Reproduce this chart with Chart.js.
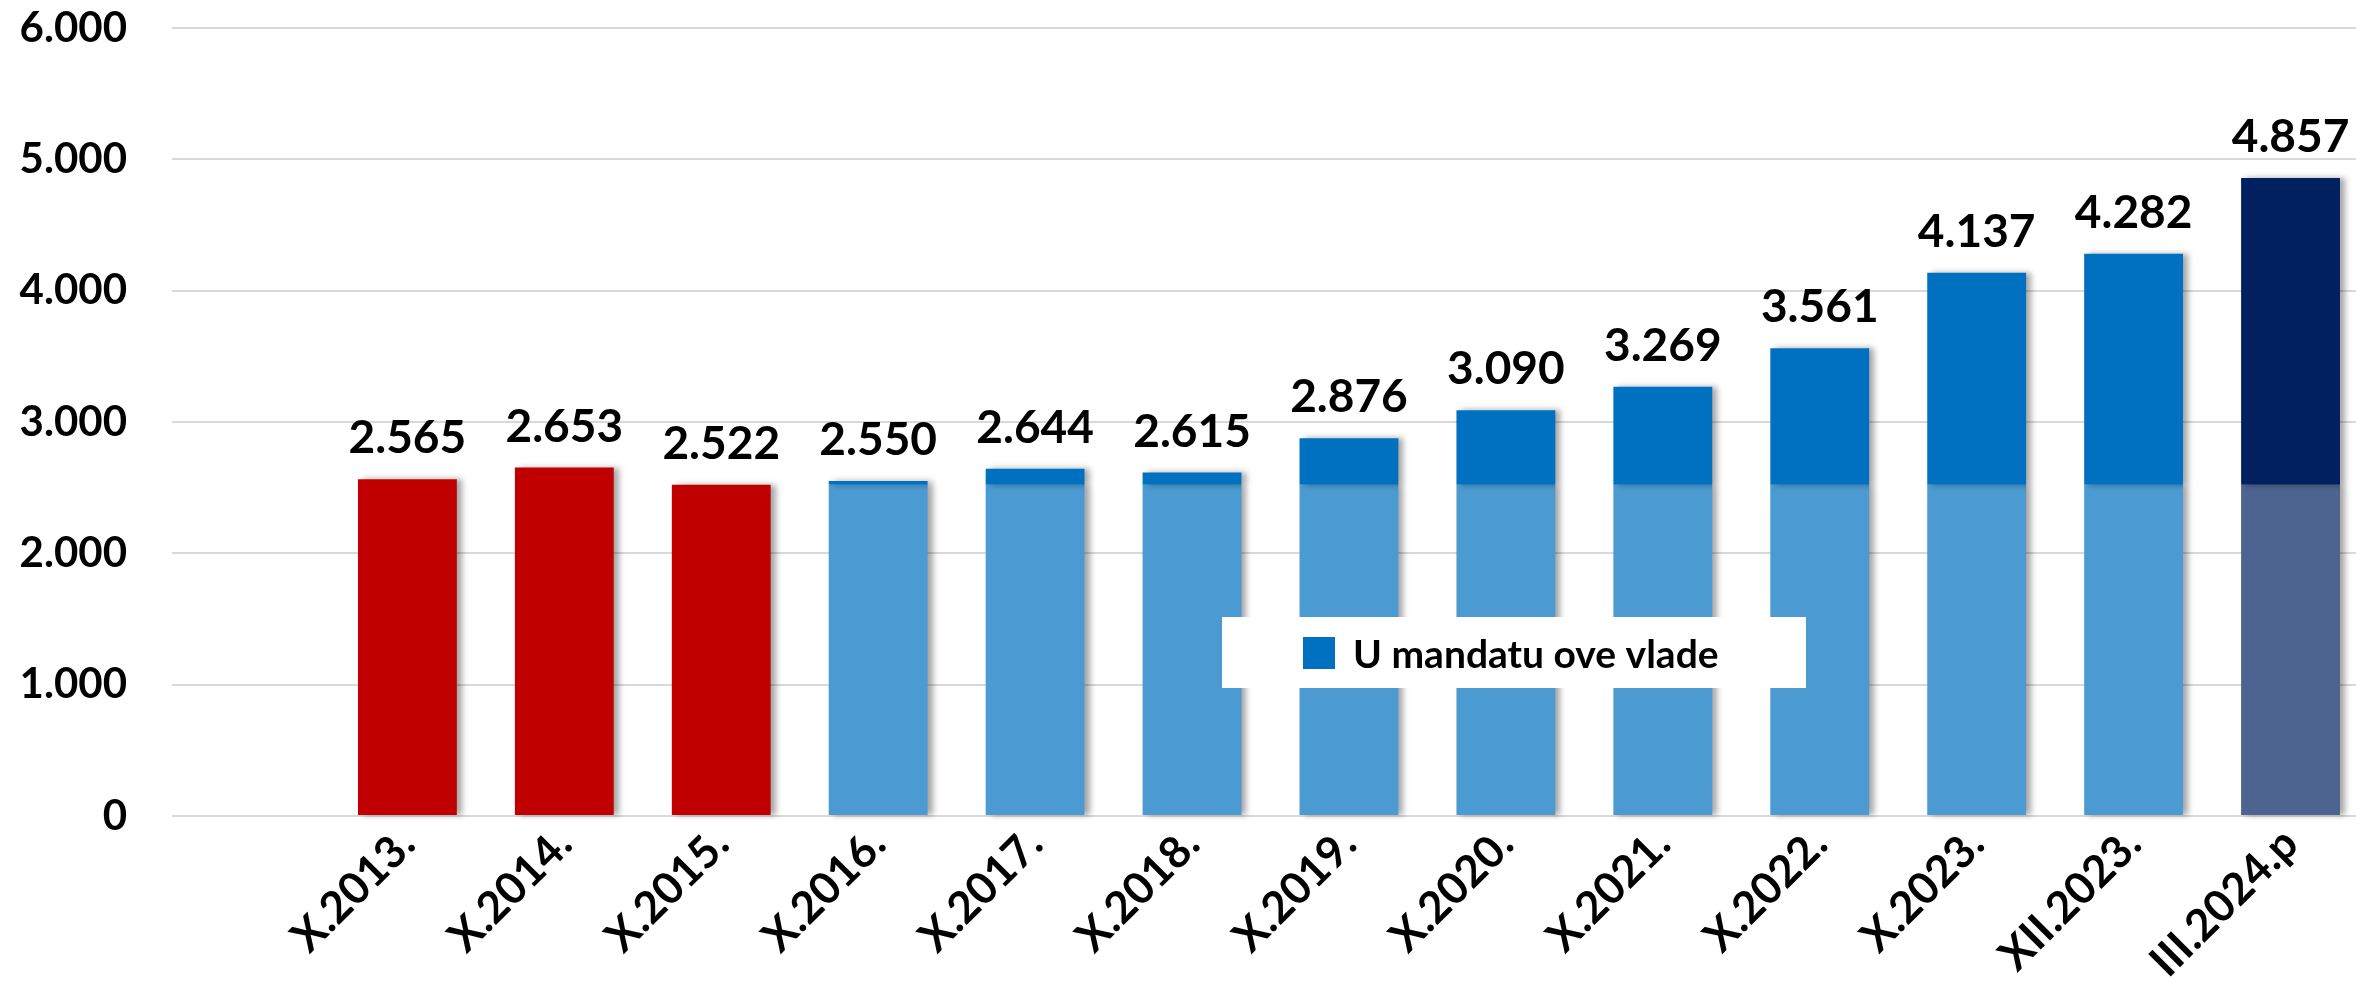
<!DOCTYPE html>
<html>
<head>
<meta charset="utf-8">
<script src="https://cdn.jsdelivr.net/npm/chart.js@4.4.1/dist/chart.umd.min.js"></script>
<style>
    html, body { margin: 0; padding: 0; background: #fff; overflow: hidden; }
    #wrap { width: 2369px; height: 1008px; }
</style>
</head>
<body>
<div id="wrap"><canvas id="chart"></canvas></div>
<script>
// first slot is an empty category, as in the original
const labels = ['', 'X.2013.', 'X.2014.', 'X.2015.', 'X.2016.', 'X.2017.', 'X.2018.', 'X.2019.',
    'X.2020.', 'X.2021.', 'X.2022.', 'X.2023.', 'XII.2023.', 'III.2024.p'];
const totals = [null, 2565, 2653, 2522, 2550, 2644, 2615, 2876, 3090, 3269, 3561, 4137, 4282, 4857];
const before = [null, 2565, 2653, 2522, null, null, null, null, null, null, null, null, null, null];
const baseLevel = [null, null, null, null, 2522, 2522, 2522, 2522, 2522, 2522, 2522, 2522, 2522, 2522];
const yTicks = [0, 1000, 2000, 3000, 4000, 5000, 6000];
const legendLabel = 'U mandatu ove vlade';

const RED = '#C00000';
const LIGHT = '#4B9BD2';
const MID = '#0070C0';
const NAVY = '#002060';
const GREYBLUE = '#4D6490';
const FONT = 'Lato, "Open Sans", sans-serif';

function fmt(v) {
    return String(v).replace(/\B(?=(\d{3})+(?!\d))/g, '.');
}

const last = labels.length - 1;
const baseColors = labels.map((l, i) => i === last ? GREYBLUE : LIGHT);
const topColors = labels.map((l, i) => i === last ? NAVY : MID);
const topRanges = totals.map((t, i) => baseLevel[i] != null ? [baseLevel[i], t] : null);

const overlay = {
    id: 'overlay',
    beforeDatasetsDraw(chart) {
        const ctx = chart.ctx;
        ctx.save();
        ctx.shadowColor = 'rgba(0,0,0,0.35)';
        ctx.shadowBlur = 6;
        ctx.shadowOffsetX = 5;
        ctx.shadowOffsetY = 0;
    },
    afterDatasetsDraw(chart) {
        const ctx = chart.ctx;
        ctx.restore();
        const x = chart.scales.x, y = chart.scales.y;

        // value labels above bars
        ctx.save();
        ctx.fillStyle = '#000';
        ctx.font = 'bold 46px ' + FONT;
        ctx.textAlign = 'center';
        ctx.textBaseline = 'alphabetic';
        totals.forEach((t, i) => {
            if (t == null) return;
            ctx.fillText(fmt(t), x.getPixelForValue(i), y.getPixelForValue(t) - 26);
        });

        // legend box in the middle of the plot
        ctx.fillStyle = '#fff';
        ctx.fillRect(1222, 617, 584, 71);
        ctx.fillStyle = MID;
        ctx.fillRect(1303, 637, 32, 32);
        ctx.fillStyle = '#000';
        ctx.font = 'bold 39px ' + FONT;
        ctx.textAlign = 'left';
        ctx.fillText(legendLabel, 1353, 668);
        ctx.restore();
    }
};

new Chart(document.getElementById('chart'), {
    type: 'bar',
    data: {
        labels: labels,
        datasets: [
            { label: 'top', data: topRanges, backgroundColor: topColors, grouped: false, order: 0, clip: false },
            { label: 'base', data: baseLevel, backgroundColor: baseColors, grouped: false, order: 1, clip: false },
            { label: 'before', data: before, backgroundColor: RED, grouped: false, order: 2, clip: false }
        ]
    },
    options: {
        responsive: true,
        maintainAspectRatio: false,
        animation: false,
        categoryPercentage: 1,
        barPercentage: 0.63,
        layout: { padding: { top: 28, right: 0, bottom: 0, left: 0 } },
        plugins: { legend: { display: false }, tooltip: { enabled: false } },
        scales: {
            x: {
                grid: { display: false, drawTicks: false },
                border: { display: false },
                afterFit: s => { s.height = 192; s.paddingLeft = 0; s.paddingRight = 0; },
                ticks: {
                    autoSkip: false,
                    maxRotation: 45,
                    minRotation: 45,
                    padding: 2,
                    color: '#000',
                    font: { family: FONT, size: 44, weight: 'bold' }
                }
            },
            y: {
                min: 0,
                max: 6000,
                afterFit: s => { s.width = 172; s.paddingTop = 0; s.paddingBottom = 0; },
                afterBuildTicks: s => { s.ticks = yTicks.map(v => ({ value: v })); },
                grid: { color: '#D9D9D9', lineWidth: 2, drawTicks: false },
                border: { display: false },
                ticks: {
                    padding: 45,
                    color: '#000',
                    font: { family: FONT, size: 42, weight: 'bold' },
                    callback: v => fmt(v)
                }
            }
        }
    },
    plugins: [overlay]
});
</script>
</body>
</html>
